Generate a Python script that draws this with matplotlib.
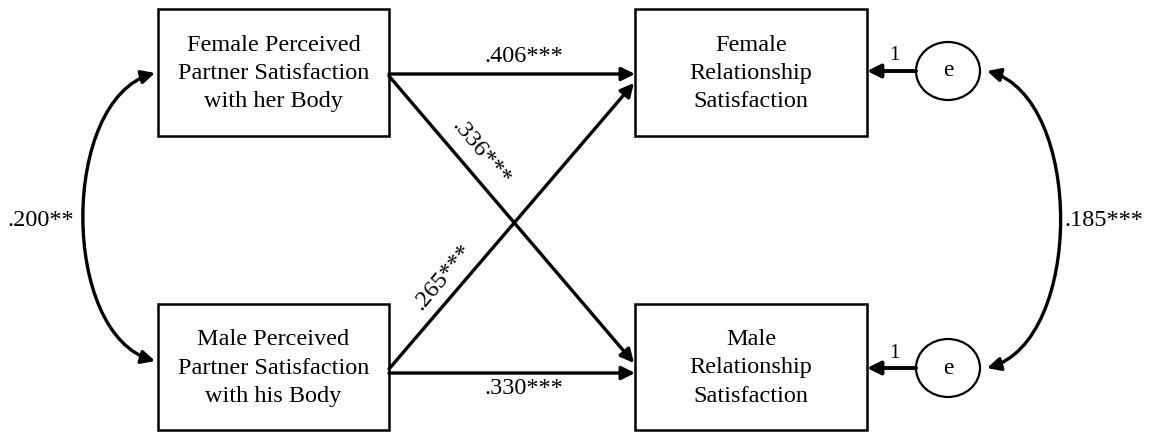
import matplotlib.pyplot as plt
from matplotlib.patches import Rectangle, Ellipse, FancyArrowPatch
from matplotlib.path import Path

# node labels
left_labels = ['Female Perceived\nPartner Satisfaction\nwith her Body',
               'Male Perceived\nPartner Satisfaction\nwith his Body']
right_labels = ['Female\nRelationship\nSatisfaction',
                'Male\nRelationship\nSatisfaction']
# path coefficients
direct_coefs = ['.406***', '.330***']
cross_coefs = ['.336***', '.265***']
cov_coefs = ['.200**', '.185***']
resid_loading = '1'

plt.rcParams['font.family'] = ['Liberation Serif', 'DejaVu Serif']

fig = plt.figure(figsize=(11.54, 4.34), dpi=100)
ax = fig.add_axes([0, 0, 1, 1])
ax.set_xlim(0, 1154)
ax.set_ylim(434, 0)
ax.axis('off')

fs = 17.5
lw = 2.4
box_lw = 1.8

# box geometry
lx0, lx1 = 158, 389
rx0, rx1 = 635, 867
rows = [(9, 136), (304, 430)]

for i, (y0, y1) in enumerate(rows):
    ax.add_patch(Rectangle((lx0, y0), lx1 - lx0, y1 - y0, fill=False, lw=box_lw, ec='black'))
    ax.add_patch(Rectangle((rx0, y0), rx1 - rx0, y1 - y0, fill=False, lw=box_lw, ec='black'))
    yc = (y0 + y1) / 2
    ax.text((lx0 + lx1) / 2, yc + 1, left_labels[i], ha='center', va='center',
            fontsize=fs, linespacing=1.45)
    ax.text((rx0 + rx1) / 2, yc + 1, right_labels[i], ha='center', va='center',
            fontsize=fs, linespacing=1.45)


def arrow(p1, p2, style='-|>', width=lw):
    a = FancyArrowPatch(p1, p2, arrowstyle=style, mutation_scale=20, lw=width,
                        color='black', shrinkA=0, shrinkB=0)
    ax.add_patch(a)


def cov_arrow(x, y0, y1, bulge):
    # cubic curve, two heads
    verts = [(x, y0), (x + bulge, y0 + 27), (x + bulge, y1 - 27), (x, y1)]
    codes = [Path.MOVETO, Path.CURVE4, Path.CURVE4, Path.CURVE4]
    a = FancyArrowPatch(path=Path(verts, codes), arrowstyle='<|-|>', mutation_scale=20,
                        lw=lw, color='black')
    ax.add_patch(a)


# direct paths
ytop, ybot = 74, 373
arrow((lx1, ytop), (rx0, ytop))
arrow((lx1, ybot), (rx0, ybot))
ax.text(524, 57, direct_coefs[0], ha='center', va='center', fontsize=fs)
ax.text(524, 389, direct_coefs[1], ha='center', va='center', fontsize=fs)

# cross paths
arrow((lx1, 76), (rx0 - 1, 363))
arrow((lx1, 369), (rx0 - 1, 83))
ax.text(481, 153, cross_coefs[0], ha='center', va='center', fontsize=fs, rotation=-50)
ax.text(443, 277, cross_coefs[1], ha='center', va='center', fontsize=fs, rotation=50)

# residuals
ex = 948
for yc in [71, 368]:
    ax.add_patch(Ellipse((ex, yc), 64, 58, fill=False, lw=1.6, ec='black'))
    ax.text(ex, yc, 'e', ha='center', va='center', fontsize=17)
    arrow((ex - 32, yc), (rx1, yc), width=2.8)
    ax.text(894, yc - 15, resid_loading, ha='center', va='center', fontsize=15)

# covariances
cov_arrow(155, 73, 361, -95)
ax.text(41, 220, cov_coefs[0], ha='center', va='center', fontsize=fs)
cov_arrow(987, 71, 368, 97)
ax.text(1104, 220, cov_coefs[1], ha='center', va='center', fontsize=fs)

fig.savefig('out.png', dpi=100)
